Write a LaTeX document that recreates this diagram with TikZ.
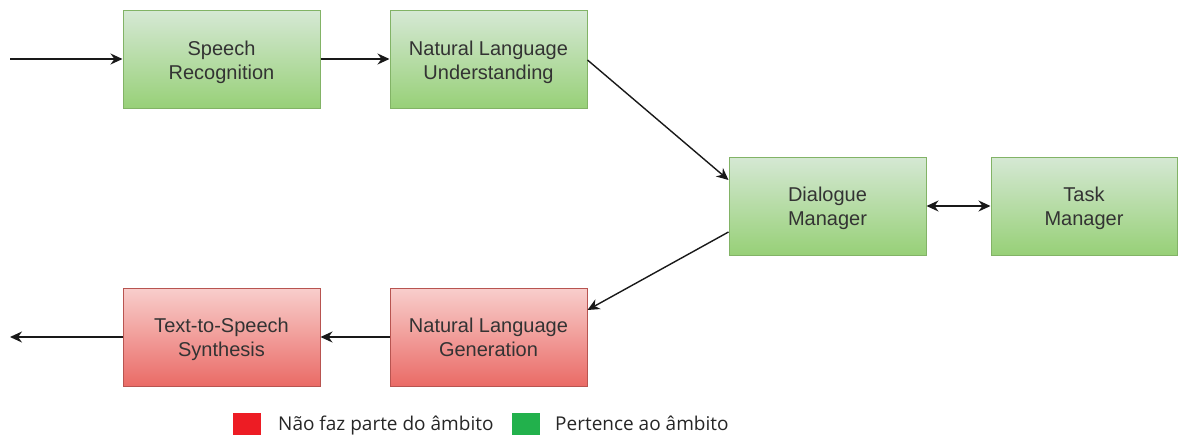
\documentclass[tikz,border=0pt]{standalone}
\usepackage{fontspec}
\setmainfont{Liberation Sans}
\newfontfamily\legendfont{Open Sans}
\usetikzlibrary{arrows.meta}
\definecolor{gtop}{HTML}{D5E8D4}
\definecolor{gbot}{HTML}{97D077}
\definecolor{gline}{HTML}{82B366}
\definecolor{rtop}{HTML}{F8CECC}
\definecolor{rbot}{HTML}{EA6B66}
\definecolor{rline}{HTML}{B85450}
\definecolor{txt}{HTML}{333333}
\definecolor{legred}{HTML}{ED1C24}
\definecolor{leggreen}{HTML}{22B14C}
\tikzset{
  box/.style={rectangle, minimum width=197pt, minimum height=98pt, align=center,
    font=\fontsize{20}{24}\selectfont, text=txt, line width=1pt, inner sep=0pt, text depth=0pt},
  gbox/.style={box, draw=gline, top color=gtop, bottom color=gbot},
  rbox/.style={box, draw=rline, top color=rtop, bottom color=rbot},
  conn/.style={line width=1.4pt, draw=black!90, -{Stealth[length=12pt,width=11pt]}},
  bconn/.style={line width=1.4pt, draw=black!90, {Stealth[length=12pt,width=11pt]}-{Stealth[length=12pt,width=11pt]}},
  legsq/.style={rectangle, minimum width=28pt, minimum height=22pt, inner sep=0pt},
  legtxt/.style={anchor=base west, inner sep=0pt, font=\legendfont\fontsize{19}{22}\selectfont, text=black!85}
}
\begin{document}
\begin{tikzpicture}[x=1pt,y=-1pt]
\useasboundingbox (0,0) rectangle (1179,436);
\node[gbox] (sr) at (221.5,60) {Speech\\Recognition};
\node[gbox] (nlu) at (488.5,60) {Natural Language\\Understanding};
\node[gbox] (dm) at (827.5,206) {Dialogue\\Manager};
\node[gbox, minimum width=186pt] (tm) at (1084,206) {Task\\Manager};
\node[rbox] (tts) at (221.5,337) {Text-to-Speech\\Synthesis};
\node[rbox] (nlg) at (488.5,337) {Natural Language\\Generation};
\coordinate (in) at (10,59);
\coordinate (out) at (10,337);
\draw[conn] (in) -- (sr.west |- in);
\draw[conn] (sr.east |- in) -- (nlu.west |- in);
\draw[conn] (nlu.east) -- ([yshift=26pt]dm.west);
\draw[bconn] (dm.east) -- (tm.west);
\draw[conn] ([yshift=-26pt]dm.west) -- ([yshift=27pt]nlg.east);
\draw[conn] (nlg.west) -- (tts.east);
\draw[conn] (tts.west) -- (out);
\node[legsq, fill=legred] (lr) at (247,424) {};
\node[legtxt] (lrt) at (278,430) {Não faz parte do âmbito};
\node[legsq, fill=leggreen] (lg) at (526,424) {};
\node[legtxt] (lgt) at (555,430) {Pertence ao âmbito};
\end{tikzpicture}
\end{document}
